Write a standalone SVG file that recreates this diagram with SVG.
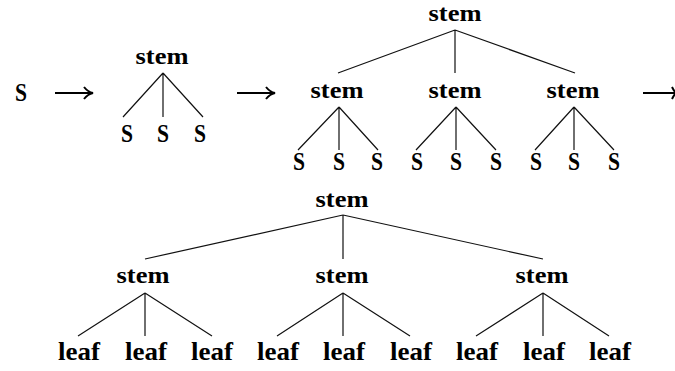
<svg xmlns="http://www.w3.org/2000/svg" width="675" height="371" viewBox="0 0 675 371">
  <style>
    text { font-family: "Liberation Serif", "Times New Roman", serif; font-weight: bold; fill: #000; text-anchor: middle; }
    .stem { font-size: 23px; }
    .s { font-size: 26px; }
    .leaf { font-size: 26px; }
    .edge { stroke: #111; stroke-width: 1.2; fill: none; }
    .arrow { stroke: #000; stroke-width: 2; fill: none; }
  </style>
  <rect width="675" height="371" fill="#fff"/>

  <!-- derivation arrows -->
  <g id="arrows">
    <line class="arrow" x1="55" y1="93" x2="92" y2="93"/>
    <path class="arrow" d="M84 87 Q88 92 93 93 Q88 94 84 99"/>
    <line class="arrow" x1="237" y1="93" x2="274" y2="93"/>
    <path class="arrow" d="M266 87 Q270 92 275 93 Q270 94 266 99"/>
    <line class="arrow" x1="643" y1="93" x2="675" y2="93"/>
    <path class="arrow" d="M672 87 Q674 91 676 93 Q674 95 672 99"/>
  </g>

  <!-- connectors -->
  <g id="connectors">
    <!-- step 1 -->
    <path class="edge" d="M163 73 L123 117 M163 73 L163 117 M163 73 L203 117"/>
    <!-- step 2 -->
    <path class="edge" d="M455 30 L338 73 M455 30 L455 73 M455 30 L575 73"/>
    <path class="edge" d="M339 107 L298 150 M339 107 L339 150 M339 107 L378 150"/>
    <path class="edge" d="M456 107 L416 150 M456 107 L456 150 M456 107 L496 150"/>
    <path class="edge" d="M574 107 L535 150 M574 107 L574 150 M574 107 L614 150"/>
    <!-- step 3 -->
    <path class="edge" d="M343 215 L145 259 M343 215 L343 259 M343 215 L543 259"/>
    <path class="edge" d="M145 293 L78 336 M145 293 L145 336 M145 293 L212 336"/>
    <path class="edge" d="M343 293 L277 336 M343 293 L343 336 M343 293 L410 336"/>
    <path class="edge" d="M543 293 L476 336 M543 293 L543 336 M543 293 L609 336"/>
  </g>

  <!-- start symbol -->
  <g id="start"><text class="s" x="21" y="101" textLength="12" lengthAdjust="spacingAndGlyphs">S</text></g>

  <!-- tree 1 -->
  <g id="t1-root"><text class="stem" x="162" y="64" textLength="53" lengthAdjust="spacingAndGlyphs">stem</text></g>
  <g id="t1-s1"><text class="s" x="127" y="142" textLength="12" lengthAdjust="spacingAndGlyphs">S</text></g>
  <g id="t1-s2"><text class="s" x="163" y="142" textLength="12" lengthAdjust="spacingAndGlyphs">S</text></g>
  <g id="t1-s3"><text class="s" x="200" y="142" textLength="12" lengthAdjust="spacingAndGlyphs">S</text></g>

  <!-- tree 2 -->
  <g id="t2-root"><text class="stem" x="455" y="21" textLength="53" lengthAdjust="spacingAndGlyphs">stem</text></g>
  <g id="t2-a"><text class="stem" x="337" y="98" textLength="53" lengthAdjust="spacingAndGlyphs">stem</text></g>
  <g id="t2-b"><text class="stem" x="455" y="98" textLength="53" lengthAdjust="spacingAndGlyphs">stem</text></g>
  <g id="t2-c"><text class="stem" x="573" y="98" textLength="53" lengthAdjust="spacingAndGlyphs">stem</text></g>
  <g id="t2-a1"><text class="s" x="299" y="170" textLength="12" lengthAdjust="spacingAndGlyphs">S</text></g>
  <g id="t2-a2"><text class="s" x="339" y="170" textLength="12" lengthAdjust="spacingAndGlyphs">S</text></g>
  <g id="t2-a3"><text class="s" x="377" y="170" textLength="12" lengthAdjust="spacingAndGlyphs">S</text></g>
  <g id="t2-b1"><text class="s" x="417" y="170" textLength="12" lengthAdjust="spacingAndGlyphs">S</text></g>
  <g id="t2-b2"><text class="s" x="456" y="170" textLength="12" lengthAdjust="spacingAndGlyphs">S</text></g>
  <g id="t2-b3"><text class="s" x="496" y="170" textLength="12" lengthAdjust="spacingAndGlyphs">S</text></g>
  <g id="t2-c1"><text class="s" x="536" y="170" textLength="12" lengthAdjust="spacingAndGlyphs">S</text></g>
  <g id="t2-c2"><text class="s" x="574" y="170" textLength="12" lengthAdjust="spacingAndGlyphs">S</text></g>
  <g id="t2-c3"><text class="s" x="614" y="170" textLength="12" lengthAdjust="spacingAndGlyphs">S</text></g>

  <!-- tree 3 -->
  <g id="t3-root"><text class="stem" x="342" y="207" textLength="53" lengthAdjust="spacingAndGlyphs">stem</text></g>
  <g id="t3-a"><text class="stem" x="143" y="283" textLength="53" lengthAdjust="spacingAndGlyphs">stem</text></g>
  <g id="t3-b"><text class="stem" x="342" y="283" textLength="53" lengthAdjust="spacingAndGlyphs">stem</text></g>
  <g id="t3-c"><text class="stem" x="542" y="283" textLength="53" lengthAdjust="spacingAndGlyphs">stem</text></g>
  <g id="t3-a1"><text class="leaf" x="79" y="360" textLength="42" lengthAdjust="spacingAndGlyphs">leaf</text></g>
  <g id="t3-a2"><text class="leaf" x="146" y="360" textLength="42" lengthAdjust="spacingAndGlyphs">leaf</text></g>
  <g id="t3-a3"><text class="leaf" x="212" y="360" textLength="42" lengthAdjust="spacingAndGlyphs">leaf</text></g>
  <g id="t3-b1"><text class="leaf" x="278" y="360" textLength="42" lengthAdjust="spacingAndGlyphs">leaf</text></g>
  <g id="t3-b2"><text class="leaf" x="344" y="360" textLength="42" lengthAdjust="spacingAndGlyphs">leaf</text></g>
  <g id="t3-b3"><text class="leaf" x="411" y="360" textLength="42" lengthAdjust="spacingAndGlyphs">leaf</text></g>
  <g id="t3-c1"><text class="leaf" x="477" y="360" textLength="42" lengthAdjust="spacingAndGlyphs">leaf</text></g>
  <g id="t3-c2"><text class="leaf" x="544" y="360" textLength="42" lengthAdjust="spacingAndGlyphs">leaf</text></g>
  <g id="t3-c3"><text class="leaf" x="610" y="360" textLength="42" lengthAdjust="spacingAndGlyphs">leaf</text></g>
</svg>
